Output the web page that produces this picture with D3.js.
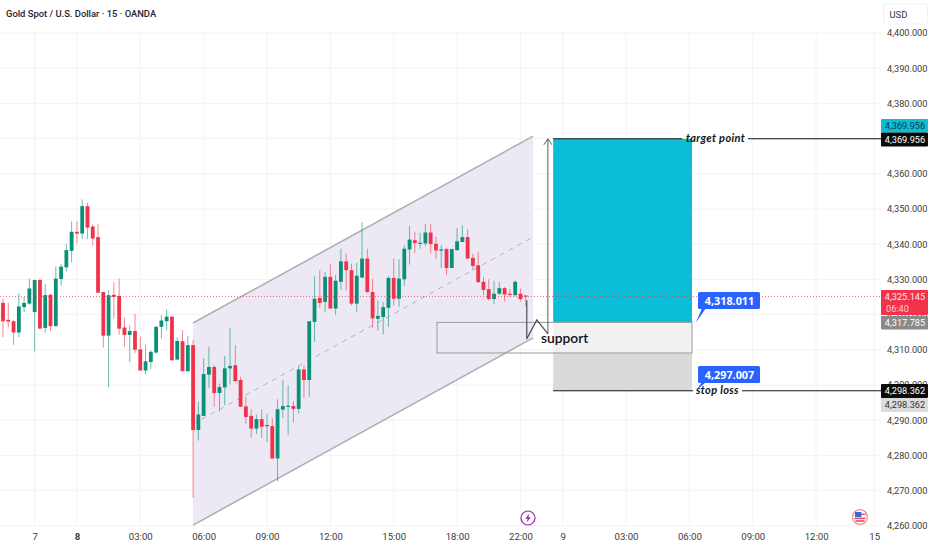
<!DOCTYPE html>
<html>
<head>
<meta charset="utf-8">
<script src="https://cdn.jsdelivr.net/npm/d3@7/dist/d3.min.js"></script>
<style>
  html, body { margin: 0; background: #fff; }
  svg { display: block; font-family: "Noto Sans", sans-serif; }
</style>
</head>
<body>
<svg id="chart" width="932" height="550"></svg>
<script>
// Candles, 15 min bars
const opens = [4323.6,4318.8,4318.4,4315.2,4322.4,4323.4,4321.0,4330.1,4316.5,4325.9,
  4317.0,4330.4,4333.7,4338.4,4343.8,4343.3,4351.1,4345.3,4342.3,4326.7,
  4314.3,4325.9,4325.6,4316.6,4314.5,4315.6,4310.4,4304.4,4306.8,4309.5,
  4316.8,4318.4,4319.7,4307.5,4312.7,4304.2,4311.6,4287.5,4291.5,4303.2,
  4305.4,4298.0,4299.6,4305.0,4305.9,4301.7,4294.2,4291.5,4287.9,4290.6,
  4288.6,4288.6,4279.4,4293.3,4294.2,4294.3,4293.5,4304.7,4301.7,4318.2,
  4325.0,4323.9,4331.0,4322.0,4329.6,4335.4,4332.9,4323.4,4330.8,4336.2,
  4326.7,4319.1,4319.6,4322.2,4330.7,4324.8,4330.3,4338.8,4341.4,4340.5,
  4340.5,4343.6,4340.4,4338.6,4338.9,4333.5,4338.6,4340.9,4342.3,4336.4,
  4334.3,4329.6,4327.5,4324.7,4326.2,4327.8,4326.2,4325.8,4326.2,4325.7];
const closes = [4318.4,4318.3,4315.2,4322.6,4323.6,4327.7,4330.1,4316.3,4325.8,4317.0,
  4330.5,4333.9,4338.6,4343.8,4343.3,4351.1,4345.0,4341.9,4326.5,4314.3,
  4325.8,4325.3,4316.3,4314.5,4315.6,4310.3,4304.4,4307.0,4309.7,4316.8,
  4318.6,4319.7,4307.3,4312.8,4304.2,4311.6,4287.5,4291.9,4303.4,4305.4,
  4298.0,4299.7,4305.0,4305.7,4301.4,4294.1,4291.2,4287.9,4290.6,4288.4,
  4288.9,4279.4,4293.4,4294.3,4294.4,4293.5,4304.7,4301.7,4318.4,4324.8,
  4323.6,4331.0,4322.0,4329.9,4335.4,4332.9,4323.4,4331.3,4336.2,4326.7,
  4319.2,4319.9,4322.4,4330.7,4324.8,4330.5,4339.0,4341.6,4340.6,4340.7,
  4343.6,4340.3,4338.5,4338.8,4333.5,4338.9,4341.1,4342.3,4336.2,4334.1,
  4329.5,4327.3,4324.7,4326.2,4327.8,4326.0,4325.9,4329.6,4324.7,4325.4];
const highs = [4324.8,4323.6,4318.7,4326.4,4325.3,4330.5,4330.2,4330.5,4329.0,4326.2,
  4333.9,4334.7,4340.4,4346.8,4346.8,4353.0,4352.0,4345.9,4345.9,4326.7,
  4327.2,4329.5,4330.5,4319.4,4317.2,4320.5,4314.0,4311.7,4310.1,4317.0,
  4320.1,4321.7,4319.9,4313.8,4315.9,4314.2,4313.0,4295.5,4307.8,4311.1,
  4305.9,4300.7,4308.5,4316.5,4311.6,4302.6,4296.9,4293.4,4291.9,4293.4,
  4292.1,4290.9,4296.2,4301.6,4300.2,4295.7,4305.7,4305.9,4318.4,4331.1,
  4332.9,4332.4,4334.6,4331.5,4339.0,4337.6,4334.8,4335.0,4346.6,4339.0,
  4330.5,4324.3,4323.9,4331.3,4336.2,4336.0,4340.0,4345.5,4343.8,4343.5,
  4346.0,4345.9,4342.4,4340.0,4339.2,4339.0,4344.9,4345.6,4344.5,4337.6,
  4338.1,4331.0,4330.3,4329.9,4329.6,4328.1,4327.5,4330.0,4327.7,4325.8];
const lows = [4313.9,4316.6,4311.7,4313.9,4321.0,4323.1,4309.8,4316.3,4315.2,4315.6,
  4317.0,4328.5,4332.6,4335.1,4340.5,4341.7,4341.7,4339.9,4326.5,4310.9,
  4299.7,4319.1,4314.6,4311.2,4306.8,4309.3,4304.4,4303.3,4304.9,4309.2,
  4313.5,4315.8,4307.3,4307.5,4304.2,4304.2,4268.2,4284.5,4291.5,4299.5,
  4294.1,4292.8,4294.5,4300.4,4301.2,4294.1,4289.3,4285.3,4286.4,4285.3,
  4284.1,4279.4,4272.9,4290.9,4286.0,4289.6,4292.2,4296.6,4296.9,4312.5,
  4322.2,4321.0,4322.0,4320.1,4327.4,4327.2,4322.9,4321.0,4330.7,4326.3,
  4316.5,4315.8,4314.6,4316.8,4322.8,4322.5,4328.4,4334.5,4337.9,4339.0,
  4339.7,4337.6,4336.0,4333.5,4331.6,4333.5,4338.4,4340.9,4336.2,4332.9,
  4329.3,4325.8,4324.3,4323.2,4326.0,4324.0,4325.3,4325.5,4324.0,4322.7];

const priceTicks = [4400,4390,4380,4370,4360,4350,4340,4330,4320,4310,4300,4290,4280,4270,4260];
const timeTicks = [6,14,26,38,50,62,74,86,98,106,118,130,142,154,165];
const timeLabels = ["7","8","03:00","06:00","09:00","12:00","15:00","18:00","22:00","9","03:00","06:00","09:00","12:00","15"];

// Levels drawn on the chart
const lastPrice = 4325.145;
const targetPrice = 4369.956;
const entryPrice = 4317.785;
const stopPrice = 4298.362;
const supportLow = 4309.1;
const channelX = [36, 100.4];
const channelUpper = [4317.6, 4370.7];
const channelLower = [4260.2, 4313.4];
const zigX = [99.2, 99.2, 101.1, 103.2];
const zigY = [4324.1, 4313.1, 4318.5, 4314.5];

const svg = d3.select("#chart");
const x = d3.scaleLinear().domain([0, 167]).range([3, 884.76]);
const y = d3.scaleLinear().domain([4400, 4260]).range([33, 525.8]);
const candleY = (v) => y(v - 0.28); // candle values were read a hair high
const plotRight = 881;

const GREEN = "#0a9076", RED = "#f0334a";

// Grid
const grid = svg.append("g").attr("stroke", "#f3f3f5").attr("stroke-width", 1);
grid.selectAll(".h").data(priceTicks).join("line")
  .attr("x1", 0).attr("x2", plotRight)
  .attr("y1", (d) => y(d)).attr("y2", (d) => y(d));
grid.selectAll(".v").data(timeTicks).join("line")
  .attr("x1", (d) => x(d)).attr("x2", (d) => x(d))
  .attr("y1", 33).attr("y2", 526);

// Channel
const chanLine = d3.line().x((d) => x(d[0])).y((d) => y(d[1]));
const upper = channelX.map((d, i) => [d, channelUpper[i]]);
const lower = channelX.map((d, i) => [d, channelLower[i]]);
const mid = channelX.map((d, i) => [d, (channelUpper[i] + channelLower[i]) / 2]);
svg.append("path").attr("d", chanLine(upper.concat(lower.slice().reverse())) + "Z").attr("fill", "#ece9f5");
svg.append("path").attr("d", chanLine(upper)).attr("fill", "none").attr("stroke", "#b0aeb5").attr("stroke-width", 1.6);
svg.append("path").attr("d", chanLine(lower)).attr("fill", "none").attr("stroke", "#b0aeb5").attr("stroke-width", 1.6);
svg.append("path").attr("d", chanLine(mid)).attr("fill", "none").attr("stroke", "#b4b2ba").attr("stroke-width", 1).attr("stroke-dasharray", "5 5");

// Candles
const candles = opens.map((o, i) => ({ i, o, c: closes[i], h: highs[i], l: lows[i] }));
const candleG = svg.append("g");
candleG.selectAll(".wick").data(candles).join("line")
  .attr("x1", (d) => x(d.i)).attr("x2", (d) => x(d.i))
  .attr("y1", (d) => candleY(d.h)).attr("y2", (d) => candleY(d.l))
  .attr("stroke", (d) => (d.c >= d.o ? GREEN : RED))
  .attr("stroke-opacity", 0.6)
  .attr("stroke-width", 1);
candleG.selectAll(".body").data(candles).join("rect")
  .attr("x", (d) => x(d.i) - 1.9)
  .attr("width", 3.8)
  .attr("y", (d) => candleY(Math.max(d.o, d.c)))
  .attr("height", (d) => Math.max(1.2, Math.abs(candleY(d.o) - candleY(d.c))))
  .attr("fill", (d) => (d.c >= d.o ? GREEN : RED));

// Target, stop and support boxes
svg.append("rect").attr("x", x(104.2)).attr("width", x(130.5) - x(104.2))
  .attr("y", y(targetPrice)).attr("height", y(entryPrice) - y(targetPrice)).attr("fill", "#0cbdd7");
svg.append("rect").attr("x", x(104.2)).attr("width", x(130.5) - x(104.2))
  .attr("y", y(supportLow)).attr("height", y(stopPrice) - y(supportLow)).attr("fill", "#dadada");
svg.append("rect").attr("x", x(104.2)).attr("width", x(130.5) - x(104.2))
  .attr("y", y(entryPrice)).attr("height", y(supportLow) - y(entryPrice)).attr("fill", "#f1f1f1");
svg.append("rect").attr("x", x(82.2)).attr("width", x(130.5) - x(82.2))
  .attr("y", y(entryPrice)).attr("height", y(supportLow) - y(entryPrice))
  .attr("fill", "none").attr("stroke", "#9a9a9a").attr("stroke-width", 1);

// Last price line
svg.append("line").attr("x1", 0).attr("x2", plotRight)
  .attr("y1", y(lastPrice)).attr("y2", y(lastPrice))
  .attr("stroke", "#f0334a").attr("stroke-opacity", 0.7).attr("stroke-dasharray", "1 2");

// Level lines with their labels
function levelLine(price, x1, x2) {
  svg.append("line").attr("x1", x1).attr("x2", x2)
    .attr("y1", y(price)).attr("y2", y(price))
    .attr("stroke", "#151515").attr("stroke-width", 1);
}
levelLine(targetPrice, x(104.2), 682);
levelLine(targetPrice, 748, plotRight);
levelLine(stopPrice, x(104.2), 693);
levelLine(stopPrice, 742, plotRight);
const noteStyle = (s) => s.attr("font-family", "Lato, sans-serif").attr("font-size", 11)
  .attr("font-weight", 700).attr("font-style", "italic").attr("letter-spacing", 0.35).attr("fill", "#131313");
svg.append("text").attr("x", 686).attr("y", y(targetPrice) + 3).text("target point").call(noteStyle);
svg.append("text").attr("x", 696).attr("y", y(stopPrice) + 3).text("stop loss").call(noteStyle);

// Arrow up to target and the zigzag
svg.append("line").attr("x1", x(103.2)).attr("x2", x(103.2))
  .attr("y1", y(targetPrice)).attr("y2", y(zigY[3]))
  .attr("stroke", "#5c5c5c").attr("stroke-width", 1);
const arrowTop = y(targetPrice);
svg.append("path").attr("d", `M${x(103.2) - 4},${arrowTop + 6}L${x(103.2)},${arrowTop}L${x(103.2) + 4},${arrowTop + 6}`)
  .attr("fill", "none").attr("stroke", "#5c5c5c").attr("stroke-width", 1);
const zigLine = d3.line().x((d) => x(d)).y((d, i) => y(zigY[i]));
svg.append("path").attr("d", zigLine(zigX)).attr("fill", "none").attr("stroke", "#4f4f52").attr("stroke-width", 1.2);
svg.append("text").attr("x", 541).attr("y", 342.5).attr("font-family", "Lato, sans-serif")
  .attr("font-size", 13.8).attr("font-weight", 600).attr("fill", "#111").text("support");

// Blue callouts
function callout(price, label, top) {
  svg.append("path").attr("d", `M696,${y(price)}L702,${top + 16}L706,${top + 16}Z`).attr("fill", "#2962ff");
  svg.append("rect").attr("x", 698).attr("y", top).attr("width", 62).attr("height", 17).attr("rx", 1.5).attr("fill", "#2962ff");
  svg.append("text").attr("x", 729.5).attr("y", top + 12.5).attr("text-anchor", "middle")
    .attr("font-size", 10.8).attr("font-weight", 700).attr("fill", "#fff").text(label);
}
callout(entryPrice, "4,318.011", 292);
callout(stopPrice, "4,297.007", 366);

// Axes
const priceFmt = d3.format(",.3f");
const yAxis = svg.append("g").attr("transform", "translate(881,0)")
  .call(d3.axisRight(y).tickValues(priceTicks).tickSize(0).tickPadding(6).tickFormat(priceFmt));
yAxis.select(".domain").remove();
yAxis.selectAll("text").attr("font-family", "Roboto, sans-serif").attr("font-size", 9.2).attr("fill", "#3c3c3c");

const xAxis = svg.append("g").attr("transform", "translate(0,526)")
  .call(d3.axisBottom(x).tickValues(timeTicks).tickSize(0).tickPadding(7).tickFormat((d, i) => timeLabels[i]));
xAxis.select(".domain").remove();
xAxis.selectAll("text").attr("font-family", "Roboto, sans-serif").attr("font-size", 9.6).attr("fill", "#3c3c3c");
xAxis.selectAll("text").filter((d, i) => i < 2).attr("font-weight", (d, i) => (i === 1 ? 700 : 400));

// Price tags on the axis
function priceTag(price, top, h, fill, color, label) {
  svg.append("rect").attr("x", 881).attr("y", top).attr("width", 47).attr("height", h).attr("rx", 1).attr("fill", fill);
  svg.append("text").attr("x", 905).attr("y", top + 10).attr("text-anchor", "middle")
    .attr("font-family", "Roboto, sans-serif").attr("font-size", 9.2).attr("fill", color).text(label);
}
priceTag(targetPrice, 119, 13.5, "#0cbdd7", "#0b3a44", priceFmt(targetPrice));
priceTag(targetPrice, 132.5, 14, "#0b0b0b", "#fff", priceFmt(targetPrice));
priceTag(lastPrice, 290, 25, "#f0334a", "#ffe4e7", priceFmt(lastPrice));
svg.append("text").attr("x", 886).attr("y", 311.5).attr("font-family", "Roboto, sans-serif")
  .attr("font-size", 9.2).attr("fill", "#ffc9cf").text("06:40");
priceTag(entryPrice, 316, 13.5, "#8a8a8a", "#fff", priceFmt(entryPrice));
priceTag(stopPrice, 384, 14, "#0b0b0b", "#fff", priceFmt(stopPrice));
priceTag(stopPrice, 398, 14, "#dcdcdc", "#333", priceFmt(stopPrice));

// USD box
svg.append("rect").attr("x", 883.5).attr("y", 4).attr("width", 44).attr("height", 20).attr("rx", 2)
  .attr("fill", "#fff").attr("stroke", "#f1f1f3");
svg.append("text").attr("x", 889.5).attr("y", 17.5).attr("font-family", "Roboto, sans-serif")
  .attr("font-size", 9.4).attr("fill", "#333").text("USD");

// Title
svg.append("text").attr("x", 6).attr("y", 16.5).attr("font-family", "Roboto, sans-serif").attr("font-size", 9.4).attr("font-weight", 500)
  .attr("fill", "#1f2230").text("Gold Spot / U.S. Dollar · 15 · OANDA");

// Event icons
const bolt = svg.append("g").attr("transform", "translate(528,518)");
bolt.append("circle").attr("r", 7).attr("fill", "#fff").attr("stroke", "#9c27b0").attr("stroke-width", 1.2);
bolt.append("path").attr("d", "M1.2,-4.2L-2.8,0.8L-0.4,0.8L-1.2,4.2L2.8,-0.8L0.4,-0.8Z").attr("fill", "#9c27b0");

const flag = svg.append("g").attr("transform", "translate(860,517)");
flag.append("circle").attr("r", 7.4).attr("fill", "#fff").attr("stroke", "#f08a92").attr("stroke-width", 1.2);
flag.append("rect").attr("x", -5.5).attr("y", 0.6).attr("width", 11).attr("height", 1.6).attr("fill", "#e84a5a");
flag.append("rect").attr("x", -4.5).attr("y", 3.2).attr("width", 9).attr("height", 1.6).attr("fill", "#e84a5a");
flag.append("rect").attr("x", -5).attr("y", -5).attr("width", 6.5).attr("height", 5).attr("fill", "#2f6fd0");
flag.append("rect").attr("x", 1.5).attr("y", -3.4).attr("width", 4).attr("height", 1.4).attr("fill", "#e84a5a");
</script>
</body>
</html>
